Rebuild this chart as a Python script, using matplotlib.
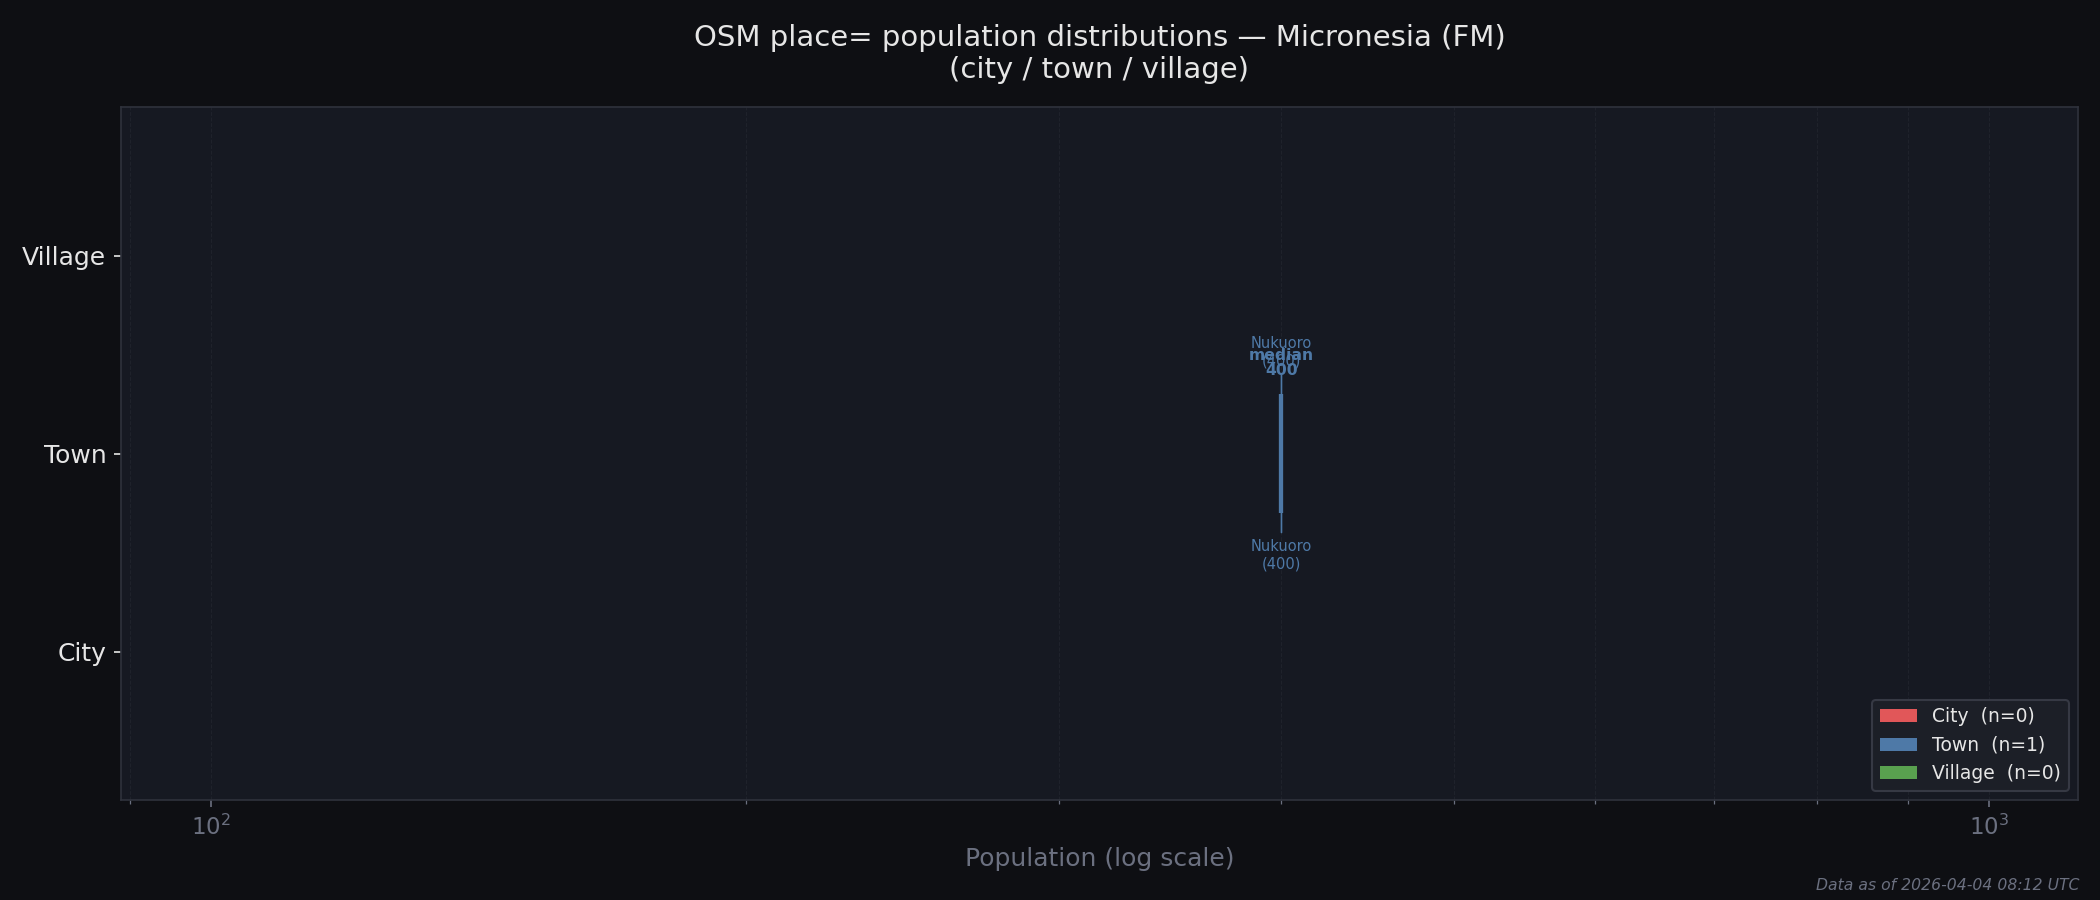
import numpy as np
import matplotlib
matplotlib.use("Agg")
import matplotlib.pyplot as plt
from matplotlib.patches import Patch
from matplotlib.ticker import NullFormatter

# ---- data ----
categories = ["City", "Town", "Village"]
cat_colors = ["#e15759", "#4e79a7", "#59a14f"]
city_pop = []
city_names = []
town_pop = [400]
town_names = ["Nukuoro"]
village_pop = []
village_names = []
x_limits = (89, 1122)
title_text = "OSM place= population distributions \u2014 Micronesia (FM)\n(city / town / village)"
footer_text = "Data as of 2026-04-04 08:12 UTC"

# ---- style ----
fig_bg = "#0e0f13"
ax_bg = "#161922"
spine_c = "#2f323c"
grid_c = "#2a2e38"
light = "#e6e6e6"
gray = "#6b7080"

fig, ax = plt.subplots(figsize=(14, 6), dpi=150)
fig.patch.set_facecolor(fig_bg)
ax.set_facecolor(ax_bg)
fig.subplots_adjust(left=0.0576, right=0.9895, bottom=0.111, top=0.881)

data = [city_pop, town_pop, village_pop]
names = [city_names, town_names, village_names]
box_w = 0.6

for i, (vals, nms, col) in enumerate(zip(data, names, cat_colors)):
    if len(vals) == 0:
        continue
    bp = ax.boxplot(vals, positions=[i], orientation="horizontal", widths=box_w,
                    patch_artist=True, showfliers=False,
                    boxprops=dict(facecolor=col, edgecolor=col, linewidth=2.0, alpha=0.9),
                    medianprops=dict(color=col, linewidth=2.0),
                    whiskerprops=dict(color=col, linewidth=1.2),
                    capprops=dict(color=col, linewidth=1.2))
    arr = np.asarray(vals)
    imax = int(np.argmax(arr))
    imin = int(np.argmin(arr))
    med = float(np.median(arr))
    ax.annotate(f"{nms[imax]}\n({vals[imax]})", xy=(vals[imax], i + box_w / 2),
                xytext=(vals[imax], i + 0.43), ha="center", va="bottom",
                fontsize=7, color=col,
                arrowprops=dict(arrowstyle="-", color=col, lw=0.8, shrinkA=1, shrinkB=0))
    ax.annotate(f"{nms[imin]}\n({vals[imin]})", xy=(vals[imin], i - box_w / 2),
                xytext=(vals[imin], i - 0.43), ha="center", va="top",
                fontsize=7, color=col,
                arrowprops=dict(arrowstyle="-", color=col, lw=0.8, shrinkA=1, shrinkB=0))
    ax.text(med, i + 0.38, f"median\n{med:,.0f}", ha="center", va="bottom",
            fontsize=7.5, fontweight="bold", color=col, linespacing=1.0)

ax.set_xscale("log")
ax.set_xlim(*x_limits)
ax.set_ylim(-0.75, 2.75)
ax.set_yticks(range(len(categories)))
ax.set_yticklabels(categories)
ax.xaxis.set_minor_formatter(NullFormatter())

ax.tick_params(axis="x", which="both", colors=gray, labelsize=11)
ax.tick_params(axis="y", colors=light, labelsize=12)
ax.grid(True, axis="x", which="both", color=grid_c, linestyle="--", linewidth=0.5, alpha=0.45)
ax.set_axisbelow(True)
for sp in ax.spines.values():
    sp.set_color(spine_c)
    sp.set_linewidth(0.8)

ax.set_title(title_text, color=light, fontsize=14, pad=14)
ax.set_xlabel("Population (log scale)", color=gray, fontsize=12, labelpad=3.5)

handles = [Patch(facecolor=c, edgecolor="none", label=f"{cat}  (n={len(v)})")
           for cat, c, v in zip(categories, cat_colors, data)]
leg = ax.legend(handles=handles, loc="lower right", fontsize=9, facecolor="#1c1f27",
                edgecolor="#363944", labelcolor=light, framealpha=1)

fig.text(0.99, 0.008, footer_text, ha="right", va="bottom", fontsize=7.5,
         style="italic", color=gray)

fig.savefig("out.png", dpi=150, facecolor=fig.get_facecolor())
